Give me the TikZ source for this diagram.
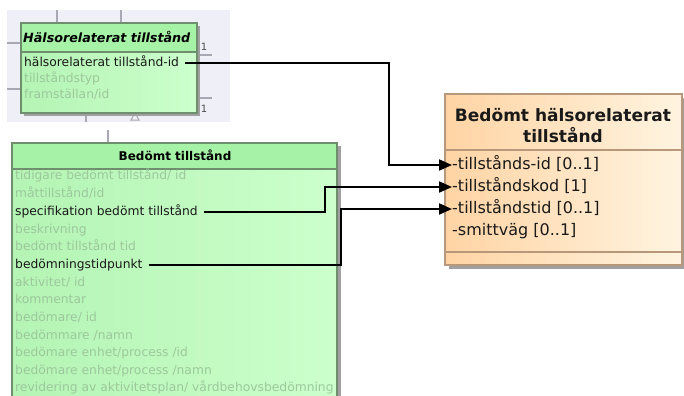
\documentclass[tikz,border=0pt]{standalone}
\usepackage{fontspec}
\setmainfont{DejaVu Sans}
\usetikzlibrary{arrows.meta,calc}
\definecolor{gfillA}{HTML}{B4F4B4}
\definecolor{gfillB}{HTML}{CCFFCC}
\definecolor{ghead}{HTML}{A6F2A6}
\definecolor{gline}{HTML}{6E8E6E}
\definecolor{gtext}{HTML}{9CC89C}
\definecolor{ofillA}{HTML}{FFD4A4}
\definecolor{ofillB}{HTML}{FFF4E0}
\definecolor{oline}{HTML}{B8987A}
\definecolor{lav}{HTML}{EFEFF7}
\definecolor{gridc}{HTML}{A8A8B4}
\definecolor{shad}{HTML}{A0A0A0}
\begin{document}
\begin{tikzpicture}[x=1bp,y=-1bp,
  attr/.style={anchor=west,inner sep=0pt,font=\fontsize{12.3bp}{14bp}\selectfont,text height=9bp,text depth=2.5bp},
  dim/.style={attr,text=gtext},
  key/.style={attr,text=black!90},
  rattr/.style={anchor=west,inner sep=0pt,font=\fontsize{16bp}{18bp}\selectfont,text height=11.5bp,text depth=3.5bp,text=black!90},
  rhead/.style={inner sep=0pt,font=\bfseries\fontsize{17bp}{20bp}\selectfont,text=black!90},
  mult/.style={inner sep=0pt,font=\fontsize{10bp}{12bp}\selectfont,text=black!70},
  conn/.style={line width=2bp,black,-{Triangle[length=13bp,width=11bp]}},
  gridline/.style={gridc,line width=1.2bp}]
\useasboundingbox (0,0) rectangle (684,395);
\clip (0,0) rectangle (684,395);
% lavender background of upper diagram part
\fill[lav] (7,10) rectangle (230,122);
\draw[gridline] (57,10) -- (57,23);
\draw[gridline] (121,10) -- (121,23);
\draw[gridline] (7,43) -- (21,43);
\draw[gridline] (7,89) -- (21,89);
\draw[gridline] (197,55) -- (212,55);
\draw[gridline] (197,98) -- (212,98);
\draw[gridline] (86,113) -- (86,122);
\draw[gridline] (108,130) -- (108,143);
\draw[gridc,line width=1bp,fill=lav] (135,113) -- (131,120) -- (139,120) -- cycle;
% top-left class
\fill[shad] (24,26) rectangle (200,116);
\shade[left color=gfillA,right color=gfillB] (21,23) rectangle (197,113);
\fill[ghead] (21,23) rectangle (197,52);
\draw[gline,line width=1.2bp] (21,23) rectangle (197,113);
\draw[gline,line width=1.2bp] (21,52) -- (197,52);
\node[anchor=west,inner sep=0pt,font=\bfseries\itshape\fontsize{12.7bp}{14bp}\selectfont] (th) at (23,37) {Hälsorelaterat tillstånd};
\node[key] (a1) at (24,63) {hälsorelaterat tillstånd-id};
\node[dim] (a2) at (24,79) {tillståndstyp};
\node[dim] (a3) at (24,95) {framställan/id};
\node[mult] (m1) at (204,47) {1};
\node[mult] (m2) at (204,109) {1};
% lower-left class
\fill[shad] (15,146) rectangle (341,400);
\shade[left color=gfillA,right color=gfillB] (12,143) rectangle (337,400);
\fill[ghead] (12,143) rectangle (337,169);
\draw[gline,line width=1.2bp] (12,400) -- (12,143) -- (337,143) -- (337,400);
\draw[gline,line width=1.2bp] (12,169) -- (337,169);
\node[inner sep=0pt,font=\bfseries\fontsize{12bp}{14bp}\selectfont] (bh) at (175,155) {Bedömt tillstånd};
\node[dim] (b1) at (15,176.5) {tidigare bedömt tillstånd/ id};
\node[dim] (b2) at (15,194) {måttillstånd/id};
\node[key] (b3) at (15,212) {specifikation bedömt tillstånd};
\node[dim] (b4) at (15,230) {beskrivning};
\node[dim] (b5) at (15,247.5) {bedömt tillstånd tid};
\node[key] (b6) at (15,265) {bedömningstidpunkt};
\node[dim] (b7) at (15,283) {aktivitet/ id};
\node[dim] (b8) at (15,300.5) {kommentar};
\node[dim] (b9) at (15,318) {bedömare/ id};
\node[dim] (b10) at (15,336) {bedömmare /namn};
\node[dim] (b11) at (15,353.5) {bedömare enhet/process /id};
\node[dim] (b12) at (15,371) {bedömare enhet/process /namn};
\node[dim] (b13) at (15,388.5) {revidering av aktivitetsplan/ vårdbehovsbedömning};
% right class
\fill[shad] (449,98) rectangle (686,269);
\shade[left color=ofillA,right color=ofillB] (445,94) rectangle (682,265);
\draw[oline,line width=1.2bp] (445,94) rectangle (682,265);
\draw[oline,line width=1.2bp] (445,150) -- (682,150);
\draw[oline,line width=1.2bp] (445,252) -- (682,252);
\node[rhead] (rh1) at (563,115) {Bedömt hälsorelaterat};
\node[rhead] (rh2) at (563,135) {tillstånd};
\node[rattr] (r1) at (452,165) {-tillstånds-id [0..1]};
\node[rattr] (r2) at (452,187) {-tillståndskod [1]};
\node[rattr] (r3) at (452,209) {-tillståndstid [0..1]};
\node[rattr] (r4) at (452,231) {-smittväg [0..1]};
% connectors
\coordinate (k1) at (389,165);
\coordinate (k2) at (325,187);
\coordinate (k3) at (341,209);
\draw[conn] ([xshift=6bp]a1.east) -| (k1) -- (r1.west);
\draw[conn] ([xshift=6bp]b3.east) -| (k2) -- (r2.west);
\draw[conn] ([xshift=6bp]b6.east) -| (k3) -- (r3.west);
\end{tikzpicture}
\end{document}
